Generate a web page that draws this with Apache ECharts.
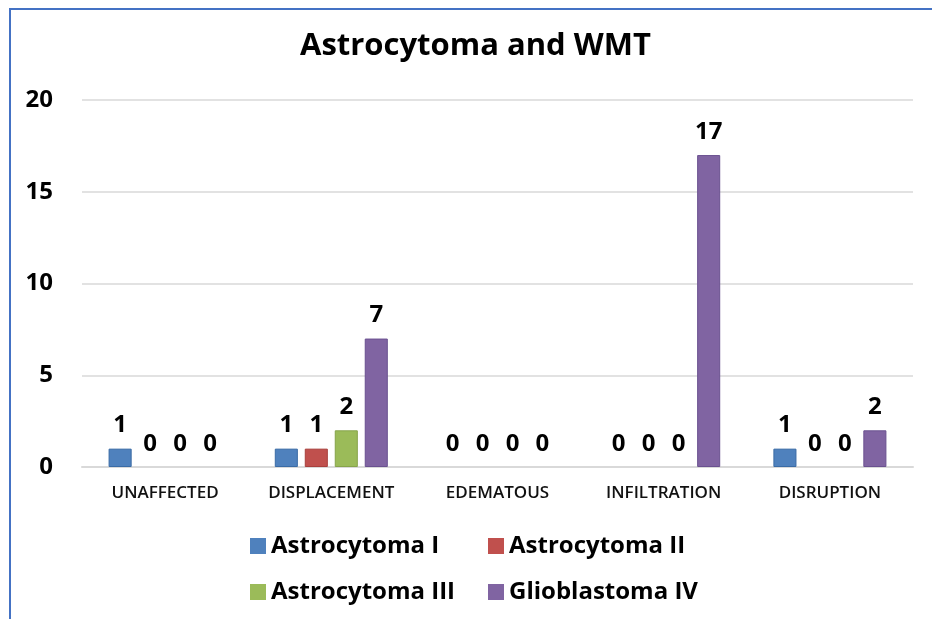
<!DOCTYPE html>
<html><head><meta charset="utf-8">
<script src="https://cdn.jsdelivr.net/npm/echarts@6/dist/echarts.min.js"></script>
<style>html,body{margin:0;padding:0;background:#fff}#c{width:932px;height:619px;position:relative}
#bl{position:absolute;left:9px;top:8px;width:2px;height:611px;background:#4472C4}
#bt{position:absolute;left:9px;top:8px;width:923px;height:2px;background:#4472C4}</style>
</head><body><div id="c"></div><div id="bl"></div><div id="bt"></div>
<script>
const title = 'Astrocytoma and WMT';
const categories = ['UNAFFECTED', 'DISPLACEMENT', 'EDEMATOUS', 'INFILTRATION', 'DISRUPTION'];
const seriesNames = ['Astrocytoma I', 'Astrocytoma II', 'Astrocytoma III', 'Glioblastoma IV'];
const astroI = [1, 1, 0, 0, 1];
const astroII = [0, 1, 0, 0, 0];
const astroIII = [0, 2, 0, 0, 0];
const glioIV = [0, 7, 0, 17, 2];
const yTicks = [0, 5, 10, 15, 20];

const colors = ['#4F81BD', '#C0504D', '#9BBB59', '#8064A2'];
const borders = ['#3A6BA5', '#A8403D', '#86A44A', '#6A5190'];
const FONT = 'Open Sans';
const values = [astroI, astroII, astroIII, glioIV];
const legendPos = [[245, 526], [483, 526], [245, 572], [483, 572]];

const chart = echarts.init(document.getElementById('c'), null, {renderer: 'canvas'});
chart.setOption({
  animation: false,
  title: {text: title, left: 295, top: 26, textStyle: {fontFamily: FONT, fontWeight: 'bold', fontSize: 31, color: '#000'}},
  grid: {left: 82, right: 19, top: 100, bottom: 152, containLabel: false},
  legend: seriesNames.map((n, i) => ({
    data: [n], left: legendPos[i][0], top: legendPos[i][1], itemWidth: 16, itemHeight: 16, itemGap: 10, icon: 'rect',
    textStyle: {fontFamily: FONT, fontWeight: 'bold', fontSize: 24, lineHeight: 30, color: '#000'}
  })),
  xAxis: {type: 'category', data: categories,
    axisLine: {lineStyle: {color: '#d9d9d9', width: 2}}, axisTick: {show: false},
    axisLabel: {fontFamily: FONT, fontSize: 17, fontWeight: 600, color: '#111', margin: 18}},
  yAxis: {type: 'value', min: yTicks[0], max: yTicks[yTicks.length - 1], interval: 5,
    axisLine: {show: false}, axisTick: {show: false},
    splitLine: {lineStyle: {color: '#d9d9d9', width: 1.5}},
    axisLabel: {fontFamily: FONT, fontWeight: 'bold', fontSize: 24, color: '#000', margin: 29}},
  series: seriesNames.map((n, i) => ({
    name: n, type: 'bar', barGap: '30%', barCategoryGap: '32%',
    data: values[i].map(v => ({value: v, itemStyle: {borderWidth: v === 0 ? 0 : 1}})),
    itemStyle: {color: colors[i], borderColor: borders[i]},
    label: {show: true, position: 'top', distance: 11, fontFamily: FONT, fontWeight: 'bold', fontSize: 24, color: '#000'}
  }))
});
</script></body></html>
